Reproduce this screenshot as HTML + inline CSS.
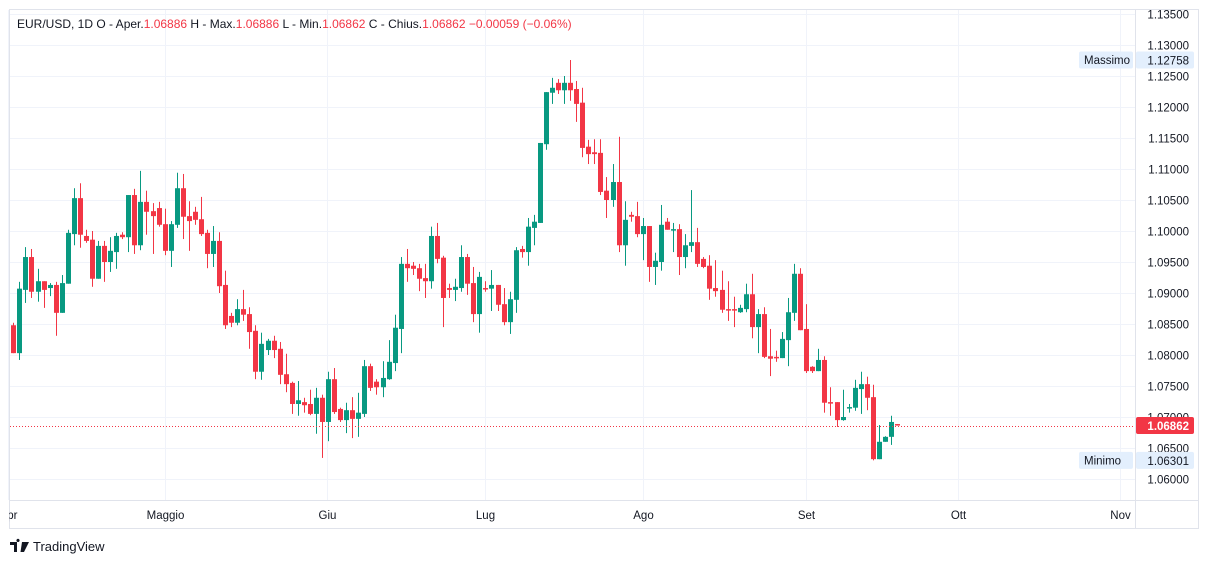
<!DOCTYPE html>
<html><head><meta charset="utf-8">
<style>
html,body{margin:0;padding:0;background:#fff;width:1209px;height:564px;overflow:hidden}
body{font-family:"Liberation Sans",Arial,sans-serif;position:relative}
svg{position:absolute;left:0;top:0}
</style></head>
<body>
<svg id="chart" width="1209" height="564" xmlns="http://www.w3.org/2000/svg">
  <rect x="9.5" y="9.5" width="1189" height="519" fill="#fff" stroke="#e0e3eb"/>
  <g id="grid"></g>
  <line x1="1135.5" y1="10" x2="1135.5" y2="528" stroke="#e0e3eb"/>
  <line x1="10" y1="500.5" x2="1198" y2="500.5" stroke="#e0e3eb"/>
  <defs><clipPath id="plotclip"><rect x="10" y="10" width="1125" height="490"/></clipPath></defs>
  <g id="candles" clip-path="url(#plotclip)"></g>
  <g id="yaxis"></g>
  <g id="xaxis"></g>
  <g id="labels"></g>
  <text x="17" y="28" font-size="12" fill="#131722">EUR/USD, 1D  O - Aper.<tspan fill="#f23645">1.06886</tspan>  H - Max.<tspan fill="#f23645">1.06886</tspan>  L - Min.<tspan fill="#f23645">1.06862</tspan>  C - Chius.<tspan fill="#f23645">1.06862</tspan>  <tspan fill="#f23645">−0.00059 (−0.06%)</tspan></text>
  <g>
    <path d="M10 542h7v10h-3v-7h-4z M18 542a1.6 1.6 0 1 1 0.01 0z M22 542h7l-5 10h-3.5z" fill="#131722"/>
    <text x="33" y="551" font-size="13" fill="#131722">TradingView</text>
  </g>
</svg>
<script>
const opens=[1.0848,1.0803,1.0905,1.0958,1.0902,1.0919,1.0908,1.0913,1.0868,1.0915,1.0995,1.1053,1.0992,1.0986,1.0923,1.0976,1.0950,1.0966,1.0994,1.0990,1.1058,1.0977,1.1047,1.1032,1.1037,1.1011,1.0968,1.1010,1.1069,1.1024,1.1031,1.1019,1.0997,1.0963,1.0984,1.0913,1.0863,1.0852,1.0874,1.0866,1.0839,1.0773,1.0808,1.0823,1.0810,1.0769,1.0755,1.0721,1.0724,1.0721,1.0705,1.0731,1.0692,1.0761,1.0713,1.0695,1.0711,1.0697,1.0705,1.0782,1.0757,1.0748,1.0761,1.0787,1.0842,1.0947,1.0944,1.0940,1.0924,1.0919,1.0992,1.0957,1.0908,1.0905,1.0908,1.0958,1.0916,1.0866,1.0908,1.0907,1.0913,1.0882,1.0853,1.0889,1.0971,1.0966,1.1005,1.1013,1.1140,1.1223,1.1239,1.1227,1.1239,1.1229,1.1207,1.1136,1.1127,1.1126,1.1065,1.1050,1.1079,1.0977,1.1026,1.1024,1.0995,1.1008,1.0942,1.0950,1.1015,1.1002,1.1003,1.0958,1.0976,1.0982,1.0955,1.0944,1.0908,1.0905,1.0874,1.0874,1.0869,1.0874,1.0898,1.0845,1.0866,1.0798,1.0797,1.0795,1.0824,1.0868,1.0931,1.0842,1.0781,1.0774,1.0792,1.0724,1.0724,1.0695,1.0715,1.0715,1.0745,1.0753,1.0732,1.0632,1.0660,1.0668,1.06886];
const highs=[1.0852,1.0918,1.0974,1.0971,1.0939,1.0919,1.0916,1.0918,1.0929,1.1002,1.1069,1.1077,1.1002,1.1000,1.0984,1.0984,1.0990,1.0997,1.0998,1.1058,1.1068,1.1097,1.1065,1.1045,1.1047,1.1036,1.1016,1.1094,1.1092,1.1048,1.1039,1.1055,1.1002,1.1008,1.0998,1.0936,1.0868,1.0890,1.0905,1.0877,1.0848,1.0836,1.0826,1.0831,1.0821,1.0802,1.0757,1.0758,1.0731,1.0744,1.0747,1.0736,1.0773,1.0779,1.0715,1.0723,1.0732,1.0739,1.0792,1.0786,1.0761,1.0790,1.0824,1.0865,1.0958,1.0971,1.0950,1.0947,1.0947,1.1007,1.1013,1.0960,1.0915,1.0923,1.0977,1.0963,1.0942,1.0934,1.0919,1.0937,1.0913,1.0908,1.0902,1.0974,1.0976,1.1021,1.1026,1.1142,1.1224,1.1247,1.1245,1.1250,1.12758,1.1242,1.1231,1.1147,1.1148,1.1148,1.1087,1.1108,1.1152,1.1048,1.1031,1.1047,1.1021,1.1008,1.0965,1.1042,1.1021,1.1013,1.1011,1.0995,1.1066,1.1005,1.0958,1.0961,1.0953,1.0936,1.0919,1.0894,1.0881,1.0915,1.0931,1.0874,1.0877,1.0842,1.0807,1.0837,1.0892,1.0947,1.0940,1.0882,1.0782,1.0810,1.0798,1.0748,1.0724,1.0744,1.0721,1.0760,1.0773,1.0765,1.0752,1.0687,1.0669,1.0702,1.06886];
const lows=[1.0803,1.0792,1.0884,1.0892,1.0886,1.0876,1.0895,1.0831,1.0868,1.0915,1.0977,1.0973,1.0981,1.0910,1.0923,1.0918,1.0934,1.0939,1.0987,1.0966,1.0963,1.0969,1.0994,1.0963,1.1007,1.0961,1.0942,1.1005,1.0987,1.0968,1.1010,1.0992,1.0940,1.0942,1.0900,1.0842,1.0845,1.0848,1.0855,1.0810,1.0761,1.0760,1.0800,1.0795,1.0753,1.0740,1.0705,1.0702,1.0707,1.0703,1.0673,1.0634,1.0661,1.0705,1.0692,1.0674,1.0666,1.0668,1.0700,1.0742,1.0736,1.0732,1.0760,1.0774,1.0803,1.0918,1.0929,1.0903,1.0892,1.0907,1.0948,1.0845,1.0892,1.0887,1.0902,1.0897,1.0853,1.0836,1.0902,1.0871,1.0871,1.0848,1.0834,1.0868,1.0957,1.0944,1.0977,1.1013,1.1131,1.1205,1.1221,1.1205,1.1210,1.1176,1.1119,1.1108,1.1108,1.1058,1.1021,1.1039,1.0966,1.0944,1.1015,1.0990,1.0953,1.0918,1.0913,1.0936,1.1002,1.0966,1.0929,1.0940,1.0966,1.0942,1.0940,1.0889,1.0894,1.0868,1.0855,1.0845,1.0868,1.0869,1.0827,1.0803,1.0795,1.0766,1.0789,1.0795,1.0782,1.0855,1.0840,1.0771,1.0771,1.0774,1.0707,1.0702,1.0684,1.0694,1.0707,1.0710,1.0705,1.0711,1.06301,1.0632,1.0660,1.0655,1.06862];
const closes=[1.0803,1.0907,1.0958,1.0902,1.0919,1.0905,1.0913,1.0868,1.0916,1.0997,1.1053,1.0994,1.0984,1.0923,1.0976,1.0950,1.0968,1.0992,1.0990,1.1058,1.0977,1.1047,1.1031,1.1024,1.1010,1.0968,1.1011,1.1069,1.1023,1.1016,1.1018,1.0995,1.0963,1.0984,1.0911,1.0848,1.0852,1.0874,1.0865,1.0837,1.0773,1.0818,1.0823,1.0808,1.0768,1.0753,1.0721,1.0727,1.0719,1.0705,1.0731,1.0692,1.0761,1.0708,1.0695,1.0711,1.0697,1.0707,1.0782,1.0747,1.0748,1.0763,1.0789,1.0844,1.0947,1.0940,1.0939,1.0923,1.0919,1.0992,1.0955,1.0892,1.0905,1.0910,1.0958,1.0915,1.0866,1.0926,1.0907,1.0913,1.0881,1.0853,1.0890,1.0969,1.0966,1.1007,1.1015,1.1142,1.1224,1.1231,1.1227,1.1239,1.1227,1.1205,1.1134,1.1124,1.1124,1.1063,1.1050,1.1079,1.0977,1.1018,1.1023,1.0995,1.1008,1.0942,1.0952,1.1010,1.1002,1.1003,1.0958,1.0977,1.0982,1.0947,1.0942,1.0907,1.0903,1.0873,1.0873,1.0873,1.0876,1.0898,1.0845,1.0866,1.0797,1.0794,1.0795,1.0826,1.0869,1.0931,1.0840,1.0774,1.0774,1.0792,1.0723,1.0723,1.0695,1.0700,1.0716,1.0747,1.0753,1.0731,1.0632,1.0660,1.0668,1.0692,1.06862];
const priceTicks=[1.060,1.065,1.070,1.075,1.080,1.085,1.090,1.095,1.100,1.105,1.110,1.115,1.120,1.125,1.130,1.135];
const monthLabels=["Apr","Maggio","Giu","Lug","Ago","Set","Ott","Nov"];
const monthIdx=[-0.9,25.06,51.8,77.9,104.0,131.0,156.1,182.9];
const lastPrice=1.06862, maxPrice=1.12758, minPrice=1.06301;

const NS="http://www.w3.org/2000/svg";
const yS=p=>45+(1.13-p)*6200;
const xS=i=>13.3+i*6.053;
function mk(tag,attrs,parent){const e=document.createElementNS(NS,tag);for(const k in attrs)e.setAttribute(k,attrs[k]);parent.appendChild(e);return e;}
const grid=document.getElementById('grid'),cg=document.getElementById('candles'),ya=document.getElementById('yaxis'),xa=document.getElementById('xaxis'),lb=document.getElementById('labels');

priceTicks.forEach(p=>{
  const y=Math.round(yS(p))+0.5;
  const gl=mk('line',{x1:10,x2:1135,y1:y,y2:y,stroke:'#f0f3fa'},grid);
  
  
  const t=mk('text',{x:1189,y:y+4,'font-size':11.5,fill:'#131722','text-anchor':'end'},ya);
  t.textContent=p.toFixed(5);
  
  
});
monthLabels.forEach((m,k)=>{
  const x=Math.round(xS(monthIdx[k]))+0.5;
  const gl=mk('line',{x1:x,x2:x,y1:10,y2:500,stroke:'#f0f3fa'},grid);
  
  
  const t=mk('text',{x:x,y:519,'font-size':11.5,fill:'#131722','text-anchor':'middle'},xa);
  t.textContent=m;
  
  
});
// cover Apr label left part (clipped)
mk('rect',{x:0,y:505,width:9,height:20,fill:'#fff'},xa);

opens.forEach((o,i)=>{
  const c=closes[i],h=highs[i],l=lows[i];
  const up=c>=o, col=up?'#089981':'#f23645';
  const x=xS(i);
  const g=mk('g',{},cg);
  
  
  mk('rect',{x:Math.round(x),y:yS(h),width:1,height:Math.max(1,yS(l)-yS(h)),fill:col},g);
  const top=yS(Math.max(o,c)),bot=yS(Math.min(o,c));
  mk('rect',{x:Math.round(x)-2,y:top,width:5,height:Math.max(1.5,bot-top),fill:col},g);
});

const ly=Math.round(yS(lastPrice))+0.5;
const pl=mk('line',{x1:10,x2:1135,y1:ly,y2:ly,stroke:'#f23645','stroke-dasharray':'1 2'},lb);


function badge(name,val,bg,fg,txt){
  const y=yS(val);
  const g=mk('g',{},lb);
  
  
  if(txt){
    mk('rect',{x:1079,y:y-8.5,width:54,height:17,rx:2,fill:'#e3effd'},g);
    const t=mk('text',{x:1084,y:y+4,'font-size':11.5,fill:'#131722'},g);t.textContent=txt;
  }
  mk('rect',{x:1136,y:y-8.5,width:58,height:17,rx:2,fill:bg},g);
  const v=mk('text',{x:1189,y:y+4.5,'font-size':11.5,fill:fg,'text-anchor':'end','font-weight':fg==='#fff'?'bold':'normal'},g);v.textContent=val.toFixed(5);
}
badge('max-price-badge',maxPrice,'#e3effd','#131722','Massimo');
badge('min-price-badge',minPrice,'#e3effd','#131722','Minimo');
badge('last-price-badge',lastPrice,'#f23645','#fff',null);
</script>
</body></html>
